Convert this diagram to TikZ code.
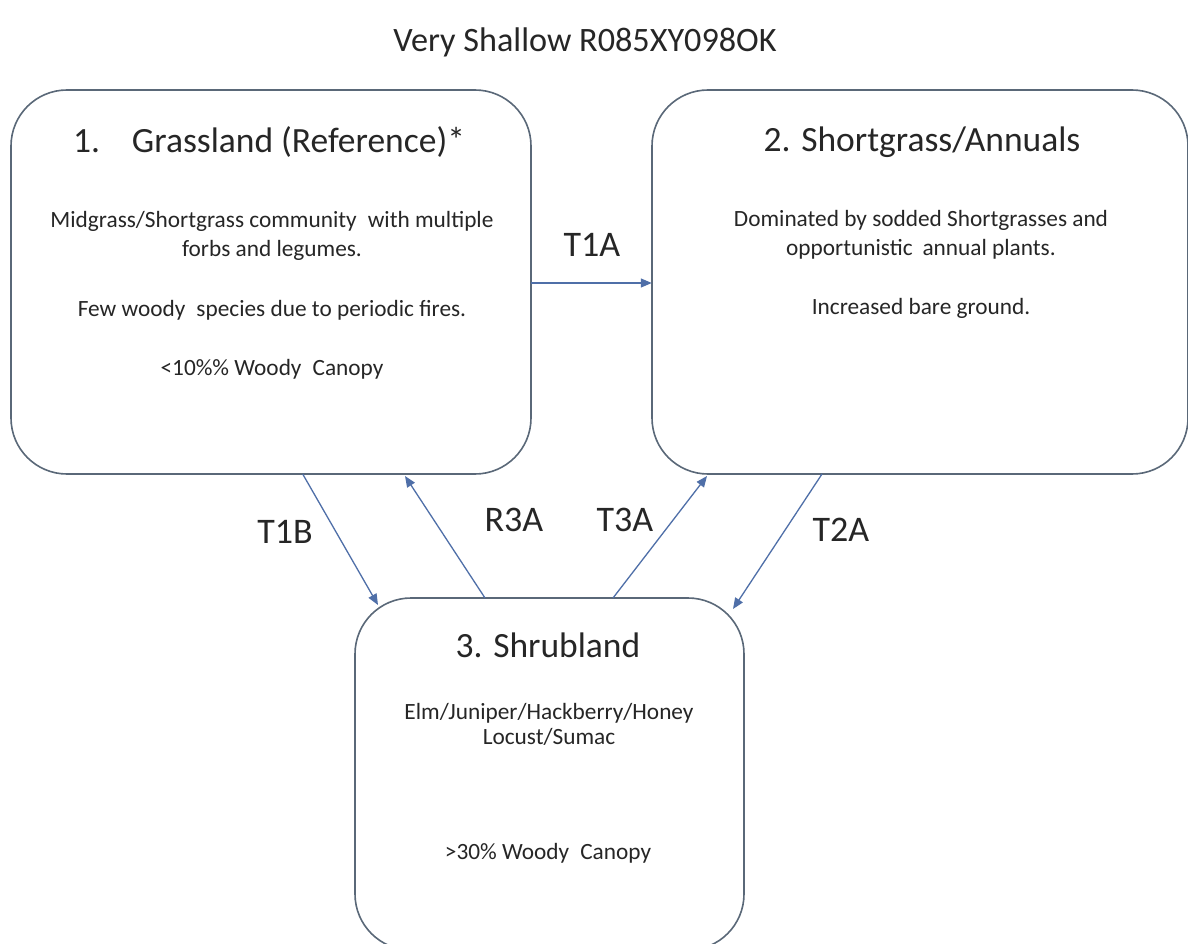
\documentclass[tikz,border=0pt]{standalone}
\usepackage{fontspec}
\setmainfont{Carlito}
\usetikzlibrary{arrows.meta,calc}
\definecolor{boxc}{HTML}{5A6878}
\definecolor{arrc}{HTML}{4F6FA8}
\definecolor{txtc}{HTML}{262626}
\begin{document}
\begin{tikzpicture}[x=1pt,y=-1pt,
  statebox/.style={draw=boxc,line width=1.6pt,rounded corners=56pt,fill=white},
  ttl/.style={text=txtc,font=\fontsize{35.5}{40}\selectfont,inner sep=0pt},
  body/.style={text=txtc,font=\fontsize{23.3}{29}\selectfont,align=center,inner sep=0pt},
  lbl/.style={text=txtc,font=\fontsize{36}{40}\selectfont,inner sep=0pt},
  conn/.style={draw=arrc,line width=1.3pt,-{Triangle[length=11pt,width=9pt]}}]
\useasboundingbox (0,0) rectangle (1188,944);
\fill[white] (0,0) rectangle (1188,944);
% title
\node[text=txtc,font=\fontsize{34.2}{40}\selectfont,inner sep=0pt] (title) at (585,42) {Very Shallow R085XY098OK};
% boxes
\draw[statebox] (11,90) rectangle (531,474);
\node[inner sep=0pt,minimum width=520pt,minimum height=384pt] (b1) at (271,282) {};
\draw[statebox] (652,90) rectangle (1188,474);
\node[inner sep=0pt,minimum width=536pt,minimum height=384pt] (b2) at (920,282) {};
\draw[statebox] (355,598) rectangle (744,950);
\node[inner sep=0pt,minimum width=389pt,minimum height=352pt] (b3) at (549.5,774) {};
% box 1 texts
\node[ttl] (t1) at (269,142) {1.\hspace{0.9em}Grassland (Reference)*};
\node[body] (d1a) at (272,235.5) {Midgrass/Shortgrass community\hspace{0.25em} with multiple\\forbs and legumes.};
\node[body] (d1b) at (272,310) {Few woody\hspace{0.25em} species due to periodic fires.};
\node[body] (d1c) at (272,369) {<10\%\% Woody\hspace{0.25em} Canopy};
% box 2 texts
\node[ttl] (t2) at (922,142) {2. Shortgrass/Annuals};
\node[body] (d2a) at (921,234.5) {Dominated by sodded Shortgrasses and\\opportunistic\hspace{0.2em} annual plants.};
\node[body] (d2b) at (921,308) {Increased bare ground.};
% box 3 texts
\node[ttl] (t3) at (548,645) {3. Shrubland};
\node[body,font=\fontsize{23.3}{25}\selectfont] (d3a) at (549,724.5) {Elm/Juniper/Hackberry/Honey\\Locust/Sumac};
\node[body] (d3b) at (548,853) {>30\% Woody\hspace{0.25em} Canopy};
% connector end points on the box borders
\coordinate (a1s) at (b1.east |- 0,283);
\coordinate (a1e) at (b2.west |- 0,283);
\coordinate (b1s) at ($(b1.south west)+(292,0)$);
\coordinate (b1e) at (378,605);
\coordinate (r3s) at (485,598);
\coordinate (r3e) at (405,476);
\coordinate (t3s) at (613,598);
\coordinate (t3e) at (707,476);
\coordinate (t2s) at (822,474);
\coordinate (t2e) at (733,609);
\draw[conn] (a1s) -- (a1e);
\draw[conn] (b1s) -- (b1e);
\draw[conn] (r3s) -- (r3e);
\draw[conn] (t3s) -- (t3e);
\draw[conn] (t2s) -- (t2e);
% labels
\node[lbl] (l1) at (592,245) {T1A};
\node[lbl] (l2) at (285,532) {T1B};
\node[lbl] (l3) at (514,520) {R3A};
\node[lbl] (l4) at (625,520) {T3A};
\node[lbl] (l5) at (841,530) {T2A};
\end{tikzpicture}
\end{document}
